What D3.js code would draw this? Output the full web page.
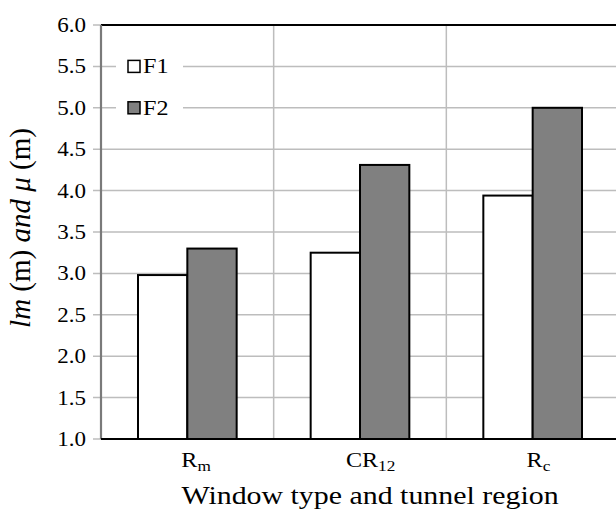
<!DOCTYPE html>
<html><head><meta charset="utf-8">
<script src="https://cdn.jsdelivr.net/npm/d3@7"></script>
<style>body{margin:0;background:#fff}svg{display:block}</style>
</head><body>
<svg id="c" width="616" height="520" font-family="Liberation Serif"></svg>
<script>
const categories = [
  {main: "R", sub: "m"},
  {main: "CR", sub: "12"},
  {main: "R", sub: "c"}
];
const seriesNames = ["F1", "F2"];
const seriesColors = ["#ffffff", "#808080"];
const F1 = [2.98, 3.25, 3.94];
const F2 = [3.30, 4.31, 5.00];
const yTicks = [1.0, 1.5, 2.0, 2.5, 3.0, 3.5, 4.0, 4.5, 5.0, 5.5, 6.0];

const FONT = "Liberation Serif";
const SX = 1.15; // horizontal stretch of the reference image text
const svg = d3.select("#c");
const L = 101, R = 619, T = 25, B = 439;

const x0 = d3.scaleBand().domain(d3.range(categories.length)).range([L, R]).paddingInner(0).paddingOuter(0);
const x1 = d3.scaleBand().domain(seriesNames).range([0, x0.bandwidth()]).paddingOuter(0.75).paddingInner(0);
const y = d3.scaleLinear().domain([1, 6]).range([B, T]);

function txt(parent, x, yv, size) {
  const t = parent.append("text").attr("x", 0).attr("y", 0)
    .attr("transform", `translate(${x},${yv}) scale(${SX},1)`)
    .attr("font-family", FONT).style("font-family", FONT)
    .attr("font-size", size).attr("fill", "#000");
  return t;
}

// horizontal grid
svg.append("g").selectAll("line").data(yTicks).join("line")
  .attr("x1", L - 8).attr("x2", R).attr("y1", d => y(d)).attr("y2", d => y(d))
  .attr("stroke", "#bdbdbd").attr("stroke-width", 1.5);
// vertical grid at category boundaries
svg.append("g").selectAll("line").data(d3.range(1, categories.length)).join("line")
  .attr("x1", d => x0(d)).attr("x2", d => x0(d)).attr("y1", T).attr("y2", B)
  .attr("stroke", "#bdbdbd").attr("stroke-width", 1.5);

// y tick labels
const tg = svg.append("g");
yTicks.forEach(v => {
  txt(tg, 86, y(v) + 7, 20).attr("text-anchor", "end").text(v.toFixed(1));
});

// bars
const series = [F1, F2];
const g = svg.append("g");
categories.forEach((c, i) => {
  seriesNames.forEach((s, j) => {
    const v = series[j][i];
    g.append("rect")
      .attr("x", x0(i) + x1(s)).attr("width", x1.bandwidth())
      .attr("y", y(v)).attr("height", y(1) - y(v))
      .attr("fill", seriesColors[j]).attr("stroke", "#000").attr("stroke-width", 2);
  });
});

// axes frame
svg.append("line").attr("x1", L).attr("x2", R).attr("y1", T).attr("y2", T).attr("stroke", "#000").attr("stroke-width", 2.2);
svg.append("line").attr("x1", L).attr("x2", L).attr("y1", T).attr("y2", B).attr("stroke", "#7a7a7a").attr("stroke-width", 2.2);
svg.append("line").attr("x1", L).attr("x2", R).attr("y1", B).attr("y2", B).attr("stroke", "#000").attr("stroke-width", 2.2);

// category labels
categories.forEach((c, i) => {
  const cx = x0(i) + x0.bandwidth() / 2;
  const t = txt(svg, cx, 467, 21);
  const m = t.append("tspan").text(c.main);
  const w = m.node().getComputedTextLength();
  t.attr("transform", `translate(${cx - (w * SX) / 2 + 2},467) scale(${SX},1)`);
  t.append("tspan").attr("font-size", 15).attr("dy", 4).text(c.sub);
});

// x axis title
txt(svg, 370, 504, 26).attr("text-anchor", "middle").text("Window type and tunnel region");

// y axis title
const yt = svg.append("text").attr("transform", "translate(30,228) rotate(-90)").attr("text-anchor", "middle")
  .attr("font-family", FONT).style("font-family", FONT).attr("font-size", 29).attr("fill", "#000");
yt.append("tspan").attr("font-style", "italic").text("lm");
yt.append("tspan").text(" (m) ");
yt.append("tspan").attr("font-style", "italic").text("and μ");
yt.append("tspan").text("  (m)");

// legend
const lg = svg.append("g");
lg.append("rect").attr("x", 116).attr("y", 48).attr("width", 67).attr("height", 78).attr("fill", "#fff");
seriesNames.forEach((s, j) => {
  const cy = y(5.5 - 0.5 * j);
  lg.append("rect").attr("x", 128).attr("y", cy - 6).attr("width", 12).attr("height", 12)
    .attr("fill", seriesColors[j]).attr("stroke", "#000").attr("stroke-width", 1.5);
  txt(lg, 143, cy + 7, 21).text(s);
});
</script>
</body></html>
